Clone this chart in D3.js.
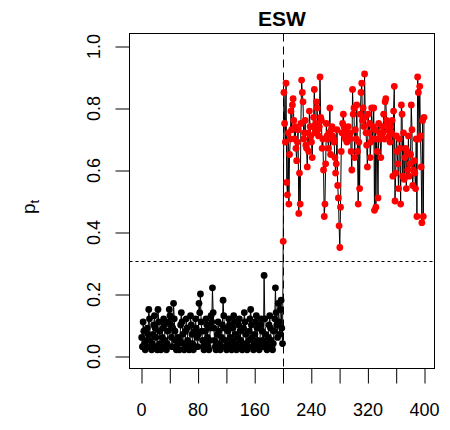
<!DOCTYPE html>
<html>
<head>
<meta charset="utf-8">
<script src="https://cdn.jsdelivr.net/npm/d3@7"></script>
<style>
  html, body { margin: 0; padding: 0; background: #fff; }
  text { font-family: "Liberation Sans", Arial, sans-serif; }
</style>
</head>
<body>
<svg id="chart" width="450" height="430"></svg>
<script>
// ---- data ----
const title = "ESW";
const xTicks = [0, 40, 80, 120, 160, 200, 240, 280, 320, 360, 400];
const xTickLabels = ["0", "", "80", "", "160", "", "240", "", "320", "", "400"];
const yTicks = [0, 0.2, 0.4, 0.6, 0.8, 1.0];
const yTickLabels = ["0.0", "0.2", "0.4", "0.6", "0.8", "1.0"];
const changePoint = 200;
const threshold = 0.305;

// regime 1 (t = 1..200)
const pBefore = [
  0.06, 0.03, 0.11, 0.08, 0.04, 0.02, 0.03, 0.05, 0.09, 0.07,
  0.15, 0.12, 0.05, 0.03, 0.02, 0.04, 0.07, 0.10, 0.13, 0.09,
  0.06, 0.03, 0.02, 0.15, 0.11, 0.08, 0.04, 0.02, 0.03, 0.06,
  0.09, 0.12, 0.10, 0.05, 0.03, 0.02, 0.04, 0.08, 0.11, 0.15,
  0.13, 0.10, 0.06, 0.03, 0.09, 0.17, 0.12, 0.08, 0.05, 0.02,
  0.03, 0.06, 0.04, 0.02, 0.05, 0.10, 0.14, 0.11, 0.07, 0.04,
  0.02, 0.03, 0.08, 0.12, 0.09, 0.05, 0.03, 0.02, 0.04, 0.13,
  0.10, 0.07, 0.04, 0.02, 0.03, 0.08, 0.12, 0.09, 0.06, 0.03,
  0.07, 0.17, 0.14, 0.20, 0.11, 0.08, 0.05, 0.03, 0.02, 0.04,
  0.08, 0.12, 0.10, 0.06, 0.03, 0.02, 0.05, 0.09, 0.13, 0.11,
  0.22, 0.14, 0.09, 0.05, 0.03, 0.02, 0.04, 0.07, 0.11, 0.08,
  0.04, 0.02, 0.03, 0.06, 0.10, 0.18, 0.13, 0.09, 0.05, 0.03,
  0.02, 0.04, 0.08, 0.12, 0.10, 0.06, 0.03, 0.02, 0.05, 0.09,
  0.13, 0.11, 0.07, 0.04, 0.02, 0.03, 0.06, 0.10, 0.12, 0.08,
  0.05, 0.03, 0.02, 0.04, 0.09, 0.14, 0.11, 0.07, 0.04, 0.02,
  0.03, 0.05, 0.08, 0.12, 0.15, 0.10, 0.06, 0.03, 0.02, 0.04,
  0.07, 0.11, 0.13, 0.09, 0.05, 0.03, 0.02, 0.04, 0.10, 0.12,
  0.08, 0.05, 0.03, 0.26, 0.12, 0.07, 0.04, 0.02, 0.03, 0.06,
  0.10, 0.13, 0.09, 0.05, 0.03, 0.02, 0.04, 0.08, 0.12, 0.22,
  0.14, 0.10, 0.06, 0.17, 0.11, 0.07, 0.15, 0.18, 0.09, 0.04
];

// regime 2 (t = 201..400)
const pAfter = [
  0.37, 0.85, 0.75, 0.69, 0.88, 0.56, 0.52, 0.72, 0.49, 0.65,
  0.70, 0.79, 0.73, 0.81, 0.83, 0.76, 0.70, 0.74, 0.67, 0.63,
  0.69, 0.73, 0.46, 0.59, 0.49, 0.75, 0.89, 0.85, 0.82, 0.70,
  0.72, 0.76, 0.68, 0.67, 0.61, 0.72, 0.66, 0.79, 0.74, 0.71,
  0.69, 0.64, 0.74, 0.77, 0.86, 0.72, 0.75, 0.82, 0.80, 0.73,
  0.71, 0.74, 0.90, 0.77, 0.76, 0.67, 0.70, 0.60, 0.45, 0.49,
  0.62, 0.75, 0.71, 0.70, 0.67, 0.72, 0.80, 0.65, 0.73, 0.74,
  0.71, 0.70, 0.69, 0.64, 0.59, 0.62, 0.73, 0.55, 0.51, 0.42,
  0.35, 0.48, 0.66, 0.72, 0.75, 0.78, 0.74, 0.71, 0.70, 0.73,
  0.69, 0.72, 0.74, 0.71, 0.70, 0.72, 0.66, 0.60, 0.86, 0.78,
  0.80, 0.64, 0.73, 0.70, 0.81, 0.66, 0.49, 0.69, 0.54, 0.78,
  0.85, 0.88, 0.76, 0.80, 0.74, 0.91, 0.77, 0.72, 0.68, 0.61,
  0.78, 0.72, 0.75, 0.64, 0.69, 0.80, 0.70, 0.74, 0.80, 0.47,
  0.73, 0.48, 0.70, 0.66, 0.51, 0.75, 0.72, 0.70, 0.64, 0.71,
  0.74, 0.72, 0.78, 0.70, 0.82, 0.83, 0.76, 0.75, 0.73, 0.73,
  0.71, 0.69, 0.74, 0.72, 0.76, 0.58, 0.79, 0.87, 0.50, 0.59,
  0.71, 0.66, 0.62, 0.54, 0.70, 0.67, 0.49, 0.81, 0.78, 0.58,
  0.72, 0.57, 0.64, 0.67, 0.54, 0.66, 0.60, 0.71, 0.58, 0.62,
  0.65, 0.81, 0.73, 0.55, 0.60, 0.63, 0.59, 0.54, 0.70, 0.45,
  0.90, 0.85, 0.70, 0.87, 0.71, 0.61, 0.43, 0.76, 0.45, 0.77
];

// ---- build ----
const series = pBefore.concat(pAfter).map((v, i) => ({ t: i + 1, p: v }));

const svg = d3.select("#chart");
const box = { left: 129.5, right: 434.5, top: 33.5, bottom: 368.5 };

const x = d3.scaleLinear().domain([0, 400]).range([141, 424]);
const y = d3.scaleLinear().domain([0, 1]).range([356, 46]);

// title
svg.append("text")
  .attr("x", (box.left + box.right) / 2)
  .attr("y", 26)
  .attr("text-anchor", "middle")
  .attr("font-weight", "bold")
  .attr("font-size", 21)
  .text(title);

// y label p_t
const yl = svg.append("text")
  .attr("transform", "translate(35,207) rotate(-90)")
  .attr("text-anchor", "middle")
  .attr("font-size", 19);
yl.append("tspan").text("p");
yl.append("tspan").attr("font-size", 13).attr("dy", 4).text("t");

// x axis
const xAxis = d3.axisBottom(x)
  .tickValues(xTicks)
  .tickSize(15)
  .tickPadding(20)
  .tickFormat((d, i) => xTickLabels[i]);
const gx = svg.append("g").attr("transform", `translate(0,${box.bottom})`).call(xAxis);
gx.select(".domain").remove();
gx.selectAll("line").attr("stroke", "#000").attr("transform", "translate(0.5,0)");
gx.selectAll("text").attr("font-size", 18).attr("fill", "#000")
  .attr("font-family", "Liberation Sans, Arial, sans-serif");

// y axis
const yAxis = d3.axisLeft(y)
  .tickValues(yTicks)
  .tickSize(14)
  .tickFormat((d, i) => yTickLabels[i]);
const gy = svg.append("g").attr("transform", `translate(${box.left},0)`).call(yAxis);
gy.select(".domain").remove();
gy.selectAll("line").attr("stroke", "#000").attr("transform", "translate(0,0.5)");
gy.selectAll(".tick text")
  .attr("font-size", 18).attr("fill", "#000")
  .attr("font-family", "Liberation Sans, Arial, sans-serif")
  .attr("x", null).attr("dy", null)
  .attr("text-anchor", "middle")
  .attr("transform", "translate(-30,0) rotate(-90)");

// reference lines
svg.append("line")
  .attr("x1", box.left).attr("x2", box.right)
  .attr("y1", Math.round(y(threshold)) + 0.5).attr("y2", Math.round(y(threshold)) + 0.5)
  .attr("stroke", "#000").attr("stroke-dasharray", "3,3");
svg.append("line")
  .attr("x1", Math.round(x(changePoint)) + 0.5).attr("x2", Math.round(x(changePoint)) + 0.5)
  .attr("y1", box.top).attr("y2", box.bottom)
  .attr("stroke", "#000").attr("stroke-dasharray", "8,5");

// series line
svg.append("path")
  .datum(series)
  .attr("fill", "none")
  .attr("stroke", "#000")
  .attr("stroke-width", 1)
  .attr("d", d3.line().x(d => x(d.t)).y(d => y(d.p)));

// points
svg.append("g").selectAll("circle")
  .data(series)
  .join("circle")
  .attr("cx", d => x(d.t))
  .attr("cy", d => y(d.p))
  .attr("r", 3.4)
  .attr("fill", d => d.t > changePoint ? "#ff0000" : "#000");

// box
svg.append("rect")
  .attr("x", box.left).attr("y", box.top)
  .attr("width", box.right - box.left).attr("height", box.bottom - box.top)
  .attr("fill", "none").attr("stroke", "#000");
</script>
</body>
</html>
